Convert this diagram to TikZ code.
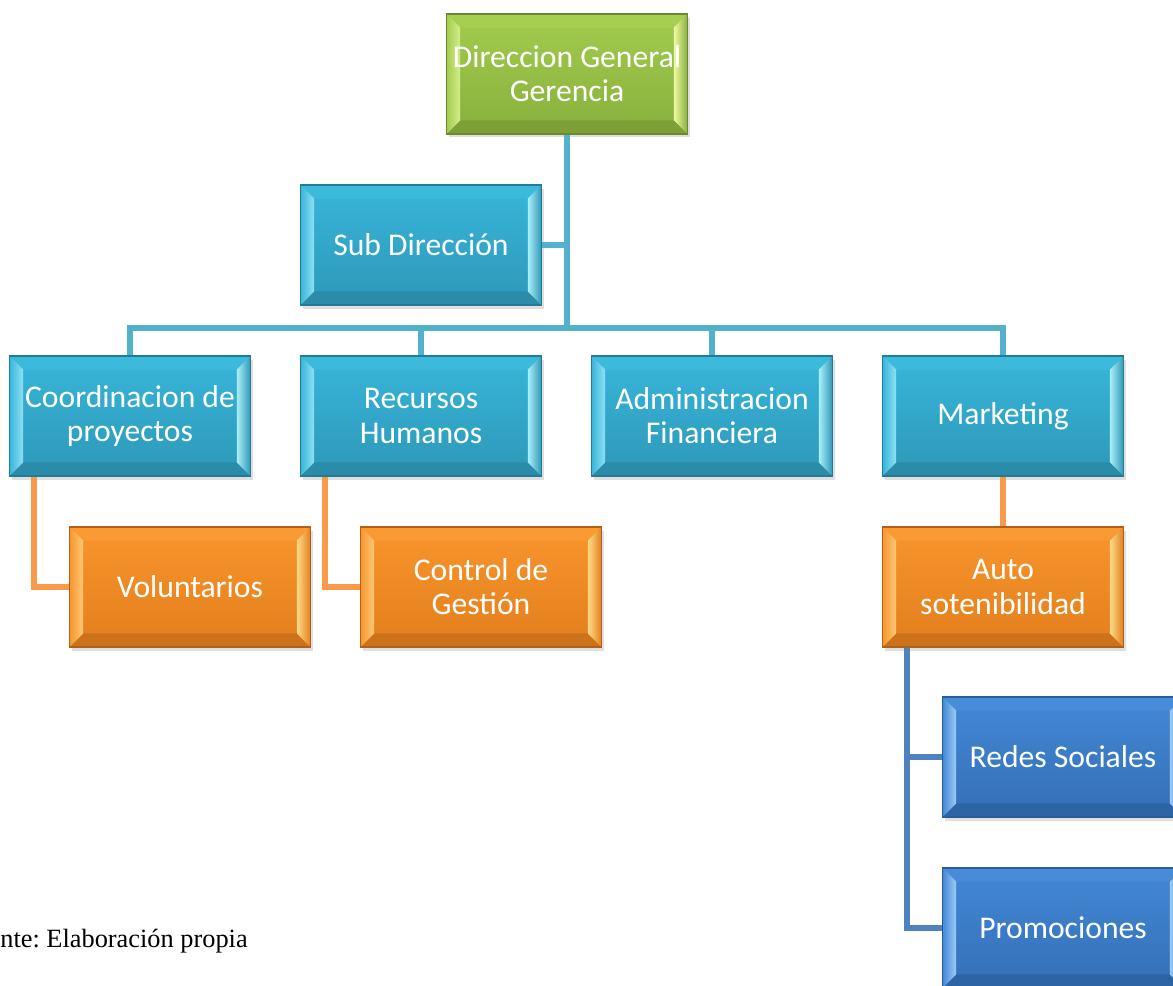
\documentclass[tikz,border=0pt]{standalone}
\usepackage{fontspec}
\setmainfont{Liberation Serif}
\newfontfamily\boxfont{Carlito}
\usetikzlibrary{calc,shadows}
\definecolor{tealA}{HTML}{38B6DA}
\definecolor{tealB}{HTML}{2D98B8}
\definecolor{tealL}{HTML}{8FE0F4}
\definecolor{tealR}{HTML}{A8EEF6}
\definecolor{tealT}{HTML}{3CBADC}
\definecolor{tealD}{HTML}{2A8CA9}
\definecolor{tealE}{HTML}{237C96}
\definecolor{grnA}{HTML}{A2CC4E}
\definecolor{grnB}{HTML}{88B03D}
\definecolor{grnL}{HTML}{D4EE8A}
\definecolor{grnR}{HTML}{EEF8A0}
\definecolor{grnT}{HTML}{A6CF52}
\definecolor{grnD}{HTML}{7CA036}
\definecolor{grnE}{HTML}{6A8A2E}
\definecolor{orA}{HTML}{F9952C}
\definecolor{orB}{HTML}{E27F1D}
\definecolor{orL}{HTML}{FCC878}
\definecolor{orR}{HTML}{FFDA86}
\definecolor{orT}{HTML}{FA9A33}
\definecolor{orD}{HTML}{CC721B}
\definecolor{orE}{HTML}{B0601A}
\definecolor{bluA}{HTML}{4388D6}
\definecolor{bluB}{HTML}{346FB6}
\definecolor{bluL}{HTML}{9CCBF6}
\definecolor{bluR}{HTML}{9CCBF6}
\definecolor{bluT}{HTML}{488CD9}
\definecolor{bluD}{HTML}{2D64A6}
\definecolor{bluE}{HTML}{2A5C98}
\definecolor{tline}{HTML}{52B2CC}
\definecolor{oline}{HTML}{F79A4A}
\definecolor{bline}{HTML}{4F81BD}
\tikzset{
  bev/.style n args={7}{rectangle, minimum width=4.82cm, minimum height=2.4cm,
    inner sep=0pt, align=center, text=white,
    font=\boxfont\fontsize{18}{19.5}\selectfont,
    top color=#1, bottom color=#2, draw=#7, line width=0.6pt,
    drop shadow={opacity=0.25, shadow xshift=1.2pt, shadow yshift=-2pt},
    path picture={
      \def\bd{0.27cm}
      \fill[#5] (path picture bounding box.north west) -- (path picture bounding box.north east)
        -- ($(path picture bounding box.north east)+(-\bd,-\bd)$)
        -- ($(path picture bounding box.north west)+(\bd,-\bd)$) -- cycle;
      \fill[#6] (path picture bounding box.south west) -- (path picture bounding box.south east)
        -- ($(path picture bounding box.south east)+(-\bd,\bd)$)
        -- ($(path picture bounding box.south west)+(\bd,\bd)$) -- cycle;
      \shade[left color=#1, right color=#3] (path picture bounding box.north west)
        -- ($(path picture bounding box.north west)+(\bd,-\bd)$)
        -- ($(path picture bounding box.south west)+(\bd,\bd)$)
        -- (path picture bounding box.south west) -- cycle;
      \shade[left color=#4, right color=#2] (path picture bounding box.north east)
        -- ($(path picture bounding box.north east)+(-\bd,-\bd)$)
        -- ($(path picture bounding box.south east)+(-\bd,\bd)$)
        -- (path picture bounding box.south east) -- cycle;
    }},
  tealbox/.style={bev={tealA}{tealB}{tealL}{tealR}{tealT}{tealD}{tealE}},
  grnbox/.style={bev={grnA}{grnB}{grnL}{grnR}{grnT}{grnD}{grnE}},
  orbox/.style={bev={orA}{orB}{orL}{orR}{orT}{orD}{orE}},
  blubox/.style={bev={bluA}{bluB}{bluL}{bluR}{bluT}{bluD}{bluE}},
  conn/.style={line width=0.12cm, #1},
}
\begin{document}
\begin{tikzpicture}[x=0.02cm,y=-0.02cm]
\useasboundingbox (0,0) rectangle (1173,986);
\coordinate (bar) at (567,328);
\node[grnbox]  (top)   at (567,74)  {Direccion General\\Gerencia};
\node[tealbox] (sub)   at (421,245) {Sub Dirección};
\node[tealbox] (coord) at (130,416) {Coordinacion de\\proyectos};
\node[tealbox] (rh)    at (421,416) {Recursos\\Humanos};
\node[tealbox] (adm)   at (712,416) {Administracion\\Financiera};
\node[tealbox] (mkt)   at (1003,416) {Marketing};
\node[orbox]   (vol)   at (190,587) {Voluntarios};
\node[orbox]   (ctl)   at (481,587) {Control de\\Gestión};
\node[orbox]   (auto)  at (1003,587) {Auto\\sotenibilidad};
\node[blubox]  (redes) at (1063,757) {Redes Sociales};
\node[blubox]  (promo) at (1063,928) {Promociones};
\draw[conn=tline] (top.south) -- (bar);
\draw[conn=tline] (sub.east) -- (sub.east -| top.south);
\draw[conn=tline] (coord.north) -- (coord.north |- bar) -- (mkt.north |- bar) -- (mkt.north);
\draw[conn=tline] (rh.north) -- (rh.north |- bar);
\draw[conn=tline] (adm.north) -- (adm.north |- bar);
\draw[conn=oline] ($(coord.south west)+(25,0)$) |- (vol.west);
\draw[conn=oline] ($(rh.south west)+(25,0)$) |- (ctl.west);
\draw[conn=oline] (mkt.south) -- (auto.north);
\draw[conn=bline] ($(auto.south west)+(25,0)$) |- (promo.west);
\draw[conn=bline] ($(auto.south west)+(25,0)$) |- (redes.west);
\node[anchor=base west, inner sep=0pt, font=\fontsize{15}{18}\selectfont] (cap) at (0,947) {nte:~Elaboración propia};
\end{tikzpicture}
\end{document}
